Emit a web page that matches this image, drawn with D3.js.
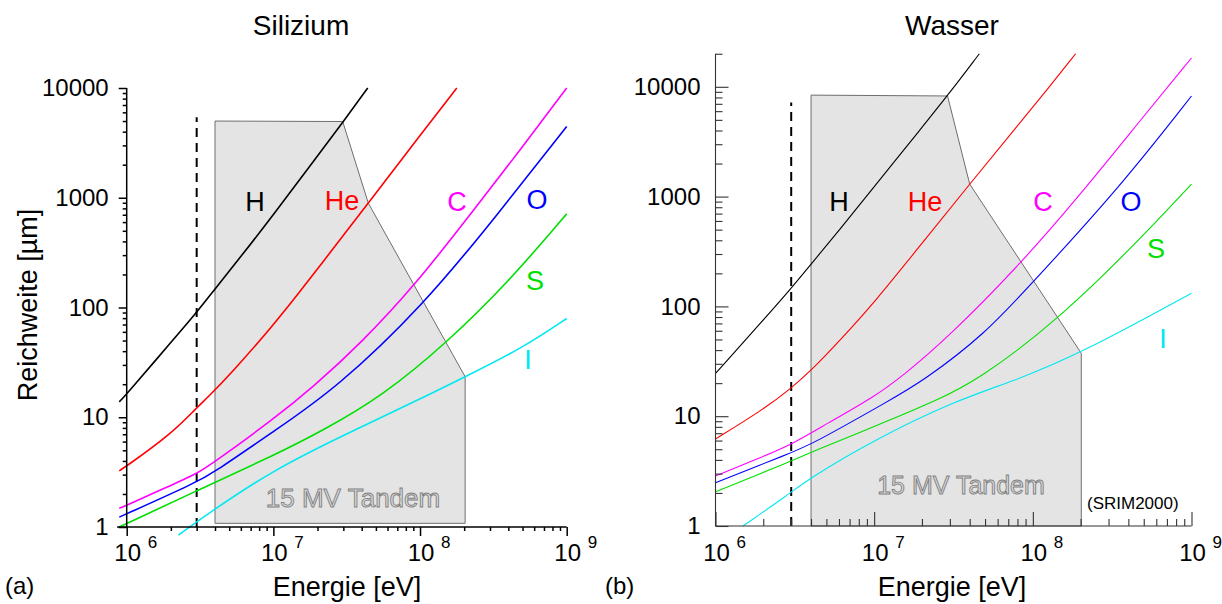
<!DOCTYPE html>
<html>
<head>
<meta charset="utf-8">
<script src="https://cdn.jsdelivr.net/npm/d3@7"></script>
<style>
  body { margin: 0; background: #fff; }
  svg { font-family: "Liberation Sans", Arial, Helvetica, sans-serif; }
</style>
</head>
<body>
<script>
// ranges [energy in eV, range in µm]

// Silizium
var siH  = [[8.9e5, 13.8], [1e6, 16.3], [2e6, 48], [3e6, 90], [4e6, 148], [6e6, 290], [1e7, 700], [2e7, 2400], [3e7, 4950], [4.4e7, 10000]];
var siHe = [[8.9e5, 3.25], [1e6, 3.6], [2e6, 7.0], [3e6, 12.2], [3.5e6, 14.8], [5e6, 24], [1e7, 69], [1.52e7, 140], [2e7, 225], [4.44e7, 893], [1e8, 3700], [1.78e8, 10000]];
var siC  = [[8.9e5, 1.48], [1e6, 1.58], [2e6, 2.4], [3e6, 3.04], [4e6, 3.94], [1e7, 9.6], [1.86e7, 18.8], [4e7, 48], [9.3e7, 161], [2.3e8, 760], [5e8, 2900], [1e9, 10000]];
var siO  = [[8.9e5, 1.23], [3e6, 2.55], [4e6, 3.19], [1e7, 7.4], [2.7e7, 18.4], [1.06e8, 106], [3.16e8, 630], [1e9, 4460]];
var siS  = [[8.9e5, 1.0], [3e6, 2.14], [1e7, 4.47], [2.19e7, 7.6], [5.6e7, 15.8], [1.51e8, 47.3], [4e8, 170], [1e9, 713]];
var siI  = [[2.25e6, 0.845], [3.9e6, 1.43], [1e7, 3.31], [3.16e7, 7.08], [9.44e7, 14.1], [2.03e8, 23.4], [5e8, 42.7], [1e9, 79.4]];

// Wasser
var wH  = [[1e6, 24.5], [2e6, 75], [3e6, 146], [4e6, 243], [6e6, 490], [1e7, 1230], [2e7, 4260], [3e7, 8850], [4.6e7, 20000]];
var wHe = [[1e6, 6.2], [2e6, 11.5], [3e6, 18], [4e6, 26], [6e6, 48], [1e7, 108], [2e7, 375], [4e7, 1300], [8e7, 4400], [1.2e8, 9000], [1.86e8, 20000]];
var wC  = [[1e6, 2.85], [2e6, 4.3], [3e6, 5.5], [5e6, 8.5], [1e7, 15], [1.5e7, 23], [3e7, 54], [8.5e7, 250], [2e8, 1050], [5e8, 5400], [1e9, 18300]];
var wO  = [[1e6, 2.48], [3e6, 4.65], [4e6, 5.5], [1.26e7, 14], [2.04e7, 21], [5e7, 56], [1.02e8, 171], [3.5e8, 1200], [1e9, 8250]];
var wS  = [[1e6, 2.05], [3e6, 3.9], [3.85e6, 4.6], [1.26e7, 9.2], [2.48e7, 14], [4.43e7, 21], [1.45e8, 75], [5.2e8, 470], [1e9, 1300]];
var wI  = [[1.49e6, 1], [2.9e6, 1.95], [3.85e6, 2.68], [1e7, 6.1], [3.3e7, 14], [7.7e7, 21], [2.01e8, 37.4], [1e9, 132]];

var ions = ["H", "He", "C", "O", "S", "I"];
var ionColors = ["#000000", "#ff0000", "#ff00ff", "#0000ff", "#00e000", "#00e8f0"];

// 15 MV Tandem reach
var siTandem = [[4e6, 1.08], [4e6, 5000], [2.97e7, 4950], [4.44e7, 893], [2.03e8, 23.4], [2.03e8, 1.08]];
var wTandem  = [[4e6, 1.0], [4e6, 8400], [2.9e7, 8250], [4.0e7, 1300], [2.02e8, 37.4], [2.02e8, 1.0]];

// dashed line at 3 MeV
var dashEnergy = 3e6;
var siDashTop = 5400;
var wDashTop = 7200;

var xMajor = [1e6, 1e7, 1e8, 1e9];
var yMajor = [1, 10, 100, 1000, 10000];

var svg = d3.select("body").append("svg")
  .attr("width", 1222)
  .attr("height", 604);

function minorTicks(from, to) {
  var out = [];
  for (var p = from; p < to; p++) {
    for (var m = 2; m <= 9; m++) out.push(m * Math.pow(10, p));
  }
  return out;
}

function drawPanel(p) {
  var x = d3.scaleLog().domain([1e6, 1e9]).range(p.xRange);
  var y = d3.scaleLog().domain([1, 1e4]).range(p.yRange);
  var g = svg.append("g");

  // tandem area
  var poly = d3.line().x(d => x(d[0])).y(d => y(d[1]));
  g.append("path")
    .attr("d", poly(p.tandem) + "Z")
    .attr("fill", "#e4e4e4")
    .attr("stroke", "#6e6e6e")
    .attr("stroke-width", 1);

  g.append("text")
    .attr("x", p.tandemText[0])
    .attr("y", p.tandemText[1])
    .attr("text-anchor", "middle")
    .attr("font-size", p.tandemSize)
    .attr("fill", "#dcdcdc")
    .attr("stroke", "#808080")
    .attr("stroke-width", 0.9)
    .text("15 MV Tandem");

  // dashed line
  g.append("line")
    .attr("x1", x(dashEnergy)).attr("x2", x(dashEnergy))
    .attr("y1", y(1)).attr("y2", y(p.dashTop))
    .attr("stroke", "#000")
    .attr("stroke-width", 2)
    .attr("stroke-dasharray", "9,6");

  // curves
  var line = d3.line()
    .x(d => x(d[0]))
    .y(d => y(d[1]))
    .curve(d3.curveBasis);
  p.series.forEach(function(s, i) {
    g.append("path")
      .attr("d", line(s))
      .attr("fill", "none")
      .attr("stroke", ionColors[i])
      .attr("stroke-width", p.lineWidth);
  });

  // axes
  var xMinor = minorTicks(6, 9);
  var yMinor = minorTicks(0, 4);
  if (p.yExtra) yMinor.push(p.yExtra);

  var xg = g.append("g").attr("transform", `translate(0, ${p.yRange[0]})`);
  xg.append("g").call(d3.axisBottom(x).tickValues(xMinor).tickSize(p.xMinorLen).tickFormat(""));
  xg.append("g").call(d3.axisBottom(x).tickValues(xMajor).tickSize(p.xMajorLen).tickFormat(""));
  xg.selectAll(".domain").remove();
  xg.append("line")
    .attr("x1", x(p.xAxisStart)).attr("x2", x(1e9))
    .attr("stroke", p.axisColor).attr("stroke-width", p.axisWidth);

  var yg = g.append("g").attr("transform", `translate(${x(1e6)}, 0)`);
  yg.append("g").call(d3.axisLeft(y).tickValues(yMinor).tickSize(p.yMinorLen).tickFormat(""));
  yg.append("g").call(d3.axisLeft(y).tickValues(yMajor).tickSize(p.yMajorLen)
    .tickPadding(p.yPad).tickFormat(d3.format("d")));
  yg.selectAll(".domain").remove();
  yg.append("line")
    .attr("y1", y(1)).attr("y2", y(p.yTop))
    .attr("stroke", p.axisColor).attr("stroke-width", p.axisWidth);

  g.selectAll(".tick line").attr("stroke", p.axisColor).attr("stroke-width", p.axisWidth);
  yg.selectAll(".tick text")
    .attr("font-size", 24)
    .attr("font-family", "Liberation Sans, Arial, sans-serif")
    .attr("fill", "#000");

  // x tick labels 10^n
  xMajor.forEach(function(v) {
    var lx = x(v);
    g.append("text")
      .attr("x", lx + 1).attr("y", 561)
      .attr("text-anchor", "middle")
      .attr("font-size", 24)
      .text("10");
    g.append("text")
      .attr("x", lx + 21).attr("y", 548)
      .attr("font-size", 17)
      .text(Math.round(Math.log10(v)));
  });

  // titles
  g.append("text")
    .attr("x", p.titleX).attr("y", 35)
    .attr("text-anchor", "middle")
    .attr("font-size", 28)
    .text(p.title);

  g.append("text")
    .attr("x", p.xTitleX).attr("y", 596)
    .attr("text-anchor", "middle")
    .attr("font-size", 27)
    .text("Energie [eV]");

  g.append("text")
    .attr("x", p.tagX).attr("y", 594)
    .attr("font-size", 24)
    .text(p.tag);

  // ion labels
  p.labels.forEach(function(l, i) {
    g.append("text")
      .attr("x", l[0]).attr("y", l[1])
      .attr("text-anchor", "middle")
      .attr("font-size", 27)
      .attr("fill", i === 0 ? "#000" : ionColors[i])
      .text(ions[i]);
  });
}

drawPanel({
  series: [siH, siHe, siC, siO, siS, siI],
  tandem: siTandem,
  dashTop: siDashTop,
  xRange: [126.7, 566.7],
  yRange: [527, 88],
  xAxisStart: 8.6e5,
  yTop: 1e4,
  yExtra: null,
  xMinorLen: 4, xMajorLen: 9,
  yMinorLen: 4, yMajorLen: 8, yPad: 10,
  axisColor: "#000", axisWidth: 1.5,
  lineWidth: 1.6,
  tandemText: [353, 507], tandemSize: 26,
  title: "Silizium", titleX: 301,
  xTitleX: 347, tag: "(a)", tagX: 5,
  labels: [[255, 211], [342, 210], [457, 211], [537, 209], [535, 290], [528, 369]]
});

drawPanel({
  series: [wH, wHe, wC, wO, wS, wI],
  tandem: wTandem,
  dashTop: wDashTop,
  xRange: [715.5, 1191.5],
  yRange: [526, 86.8],
  xAxisStart: 1e6,
  yTop: 2e4,
  yExtra: 2e4,
  xMinorLen: -7, xMajorLen: -14,
  yMinorLen: -7, yMajorLen: -13, yPad: 15,
  axisColor: "#333", axisWidth: 1.1,
  lineWidth: 1.1,
  tandemText: [961, 494], tandemSize: 25,
  title: "Wasser", titleX: 952,
  xTitleX: 952, tag: "(b)", tagX: 605,
  labels: [[839, 211], [925, 211], [1043, 211], [1131, 211], [1156, 258], [1163, 348]]
});

// SRIM note
svg.append("text")
  .attr("x", 1087).attr("y", 509)
  .attr("font-size", 17)
  .text("(SRIM2000)");

// y axis title
svg.append("text")
  .attr("transform", "translate(37, 305) rotate(-90)")
  .attr("text-anchor", "middle")
  .attr("font-size", 27)
  .text("Reichweite [µm]");
</script>
</body>
</html>
